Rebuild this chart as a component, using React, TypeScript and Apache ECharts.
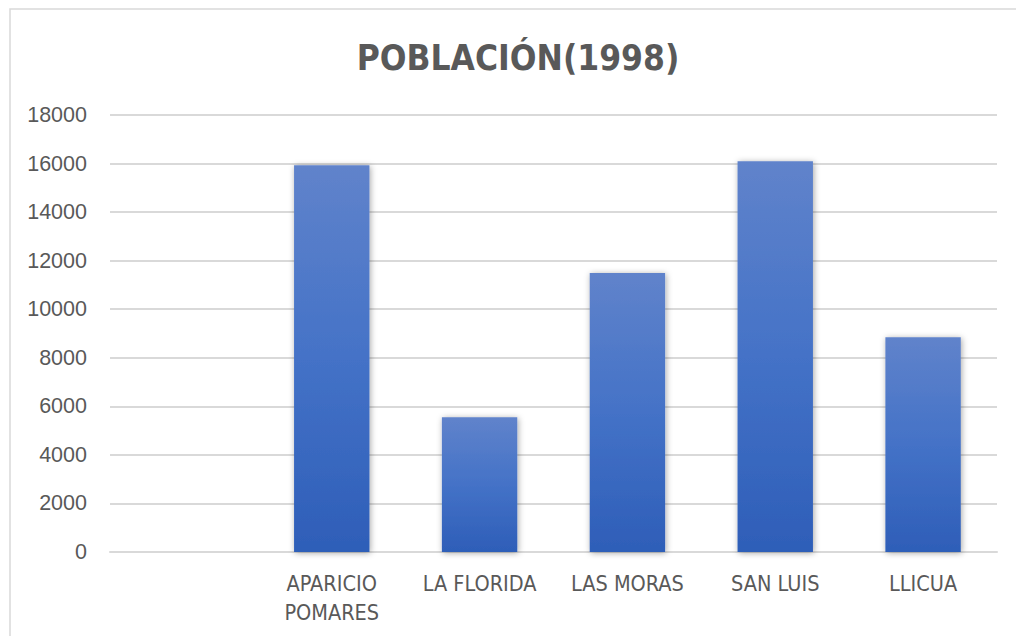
import React, { useEffect, useRef } from "react";
import * as echarts from "echarts";

const categories = ["", "APARICIO\nPOMARES", "LA FLORIDA", "LAS MORAS", "SAN LUIS", "LLICUA"];
const population = [null, 15930, 5550, 11490, 16095, 8850];
const titleText = "POBLACIÓN(1998)";

const COND = "'DejaVu Sans Condensed', 'Liberation Sans', sans-serif";

export default function App() {
  const ref = useRef<HTMLDivElement>(null);
  useEffect(() => {
    const chart = echarts.init(ref.current!, undefined, { renderer: "svg" });
    chart.setOption({
      animation: false,
      backgroundColor: "#ffffff",
      title: {
        text: titleText,
        left: 513,
        textAlign: "center",
        top: 35,
        textStyle: {
          fontFamily: COND,
          fontWeight: "bold",
          fontSize: 35,
          color: "#595959",
        },
      },
      graphic: [
        {
          type: "rect",
          shape: { x: 10, y: 9, width: 1100, height: 700 },
          style: { fill: "none", stroke: "#d9d9d9", lineWidth: 1.5 },
          silent: true,
        },
      ],
      grid: { left: 110, right: 19, top: 115, bottom: 84 },
      xAxis: {
        type: "category",
        data: categories,
        axisLine: { lineStyle: { color: "#d9d9d9", width: 2 } },
        axisTick: { show: false },
        axisLabel: {
          color: "#595959",
          fontFamily: COND,
          fontSize: 21.5,
          lineHeight: 29,
          margin: 17,
          interval: 0,
        },
      },
      yAxis: {
        type: "value",
        min: 0,
        max: 18000,
        interval: 2000,
        axisLine: { show: false },
        axisTick: { show: false },
        axisLabel: {
          color: "#595959",
          fontFamily: "'Liberation Sans', sans-serif",
          fontSize: 21.5,
          margin: 23,
          formatter: (v: number) => String(v),
        },
        splitLine: { lineStyle: { color: "#d9d9d9", width: 2 } },
      },
      series: [
        {
          type: "bar",
          data: population,
          barWidth: "51%",
          itemStyle: {
            color: new echarts.graphic.LinearGradient(0, 0, 0, 1, [
              { offset: 0, color: "#6083cb" },
              { offset: 0.5, color: "#4472c7" },
              { offset: 1, color: "#2e5eb8" },
            ]),
            shadowBlur: 6,
            shadowColor: "rgba(0,0,0,0.35)",
            shadowOffsetX: 1,
            shadowOffsetY: 1,
          },
        },
      ],
    });
    return () => chart.dispose();
  }, []);
  return (
    <div
      ref={ref}
      style={{ position: "fixed", left: 0, top: 0, width: 1016, height: 636 }}
    />
  );
}
